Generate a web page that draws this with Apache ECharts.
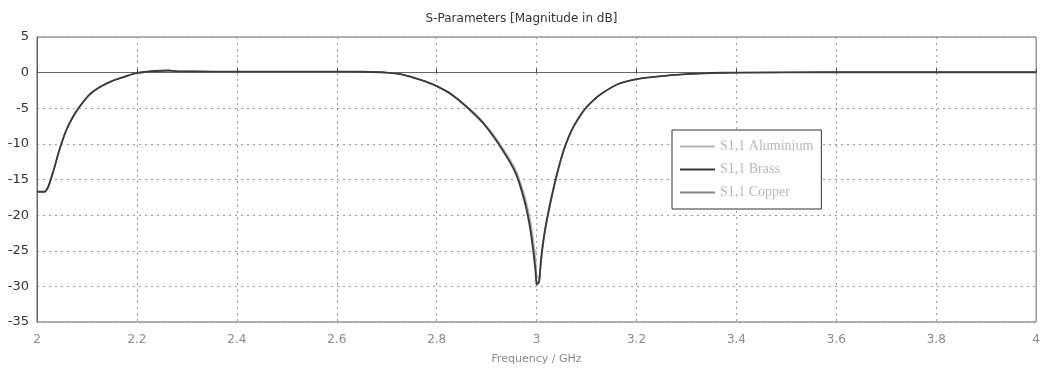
<!DOCTYPE html>
<html>
<head>
<meta charset="utf-8">
<script src="https://cdn.jsdelivr.net/npm/echarts@6/dist/echarts.min.js"></script>
<style>
  html, body { margin: 0; padding: 0; background: #fff; }
  #container { width: 1043px; height: 370px; }
</style>
</head>
<body>
<div id="container"></div>
<script>
/* S11 magnitude curves (dB) */
const freq = [2.0, 2.015, 2.022, 2.032, 2.045, 2.059, 2.072, 2.085, 2.104, 2.124, 2.151, 2.184, 2.2, 2.237, 2.263, 2.28,
    2.35, 2.45, 2.55, 2.65, 2.7, 2.73, 2.758, 2.78, 2.8, 2.826, 2.859, 2.893, 2.927, 2.958, 2.975, 2.985, 2.992, 2.998, 3.0,
    3.005, 3.009, 3.016, 3.026, 3.038, 3.048, 3.058, 3.07, 3.082, 3.098, 3.115, 3.129, 3.163, 3.2, 3.24, 3.3, 3.35, 3.4,
    3.6, 3.8, 4.0];

const s11Aluminium = [-16.8, -16.8, -16.2, -14.1, -10.9, -8.1, -6.3, -4.9, -3.2, -2.1, -1.15, -0.37, -0.05, 0.23, 0.3, 0.2,
    0.15, 0.15, 0.15, 0.12, 0.0, -0.25, -0.8, -1.3, -1.85, -2.8, -4.6, -6.9, -10.0, -13.6, -17.0, -19.8, -22.6, -26.0, -28.4,
    -28.9, -26.6, -22.9, -19.1, -15.3, -12.5, -10.3, -8.2, -6.7, -5.1, -3.85, -3.0, -1.6, -0.9, -0.55, -0.2, -0.05, 0.0,
    0.05, 0.05, 0.05];

const s11Brass = [-16.7, -16.7, -16.1, -14.0, -10.8, -8.0, -6.2, -4.8, -3.15, -2.1, -1.15, -0.37, -0.05, 0.23, 0.3, 0.2,
    0.15, 0.15, 0.15, 0.12, 0.0, -0.25, -0.8, -1.3, -1.9, -2.9, -4.75, -7.1, -10.35, -14.1, -17.8, -21.0, -24.3, -28.0, -29.8,
    -29.3, -26.1, -22.4, -18.7, -15.0, -12.3, -10.1, -8.1, -6.6, -5.0, -3.8, -3.0, -1.6, -0.9, -0.55, -0.2, -0.05, 0.0,
    0.05, 0.05, 0.05];

const s11Copper = [-16.8, -16.8, -16.1, -14.0, -10.8, -8.0, -6.2, -4.8, -3.15, -2.1, -1.15, -0.37, -0.05, 0.23, 0.3, 0.2,
    0.15, 0.15, 0.15, 0.12, 0.0, -0.25, -0.8, -1.3, -1.9, -2.85, -4.7, -7.0, -10.2, -13.9, -17.5, -20.6, -23.7, -27.2, -29.2,
    -29.6, -26.4, -22.6, -18.9, -15.1, -12.4, -10.2, -8.15, -6.6, -5.0, -3.8, -3.0, -1.6, -0.9, -0.55, -0.2, -0.05, 0.0,
    0.05, 0.05, 0.05];

const seriesNames = ['S1,1 Aluminium', 'S1,1 Brass', 'S1,1 Copper'];
const seriesColors = ['#b5b5b5', '#3a3a3a', '#858585'];

function pairs(vals) {
    return freq.map(function (f, i) { return [f, vals[i]]; });
}

function draw_chart() {
    const dom = document.getElementById("container");
    const myChart = echarts.init(dom, null, {renderer: 'canvas'});
    const allVals = [s11Aluminium, s11Brass, s11Copper];
    const option = {
        animation: false,
        backgroundColor: '#fff',
        title: {
            text: 'S-Parameters [Magnitude in dB]',
            left: 'center',
            top: 8,
            textStyle: { fontFamily: 'DejaVu Sans', fontSize: 12, fontWeight: 'normal', color: '#333' }
        },
        legend: {
            orient: 'vertical',
            left: 672,
            top: 130,
            backgroundColor: '#fff',
            borderColor: '#333',
            borderWidth: 1,
            borderRadius: 0,
            padding: [9, 8, 9, 8],
            itemGap: 8,
            itemWidth: 35,
            itemHeight: 2,
            icon: 'rect',
            data: seriesNames,
            textStyle: { fontFamily: 'Liberation Serif', fontSize: 14, color: '#b8b8b8', lineHeight: 15 }
        },
        grid: { left: 37, right: 3, top: 37, bottom: 47, show: true, borderColor: '#666', borderWidth: 1 },
        xAxis: {
            type: 'value',
            min: 2,
            max: 4,
            interval: 0.2,
            name: 'Frequency / GHz',
            nameLocation: 'middle',
            nameGap: 32,
            nameTextStyle: { fontFamily: 'DejaVu Sans', fontSize: 11, color: '#8a8a8a' },
            axisLine: { show: true, lineStyle: { color: '#666' } },
            axisTick: { show: true, inside: true, length: 4, lineStyle: { color: '#444' } },
            axisLabel: { fontFamily: 'DejaVu Sans', fontSize: 12, color: '#8a8a8a', margin: 12 },
            splitLine: { show: true, lineStyle: { type: [2, 4], color: '#9a9a9a' } }
        },
        yAxis: {
            type: 'value',
            min: -35,
            max: 5,
            interval: 5,
            axisLine: { show: true, lineStyle: { color: '#666' } },
            axisTick: { show: false },
            axisLabel: { fontFamily: 'DejaVu Sans', fontSize: 13, color: '#333', margin: 8 },
            splitLine: { show: true, lineStyle: { type: [2, 4], color: '#9a9a9a' } }
        },
        series: seriesNames.map(function (name, i) {
            return {
                name: name,
                type: 'line',
                data: pairs(allVals[i]),
                showSymbol: false,
                symbol: 'none',
                smooth: 0.2,
                color: seriesColors[i],
                lineStyle: { width: i === 1 ? 1.8 : 1.3, color: seriesColors[i] },
                z: i === 1 ? 4 : 3
            };
        })
    };
    myChart.setOption(option, true);
}

draw_chart();
</script>
</body>
</html>
